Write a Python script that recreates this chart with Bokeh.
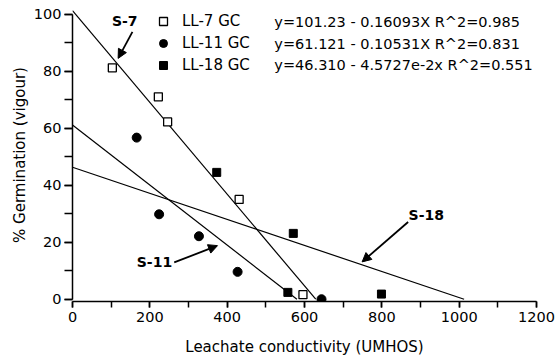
from bokeh.plotting import figure
from bokeh.models import Range1d, FixedTicker, Legend, LegendItem, Arrow, NormalHead, Label
from bokeh.embed import file_html
from bokeh.resources import INLINE
from bokeh.core.properties import value

# Seed lot germination (vigour) against leachate conductivity
ll7_cond = [103, 222, 246, 431, 596]
ll7_germ = [81.2, 71.0, 62.2, 35.0, 1.6]

ll11_cond = [166, 224, 327, 427, 644]
ll11_germ = [56.7, 29.8, 22.1, 9.6, 0.0]

ll18_cond = [373, 557, 571, 799]
ll18_germ = [44.5, 2.4, 23.1, 1.8]

series_names = ["LL-7 GC", "LL-11 GC", "LL-18 GC"]
line_names = ["S-7", "S-11", "S-18"]

# Linear fits: germination = intercept - slope * conductivity
intercepts = [101.23, 61.121, 46.310]
slopes = [0.16093, 0.10531, 4.5727e-2]
equations = [
    "y=101.23 - 0.16093X R^2=0.985",
    "y=61.121 - 0.10531X R^2=0.831",
    "y=46.310 - 4.5727e-2x R^2=0.551",
]

x_ticks = [0, 200, 400, 600, 800, 1000, 1200]
x_minor = [0, 100, 200, 300, 400, 500, 600, 700, 800, 900, 1000, 1100, 1200]
y_ticks = [0, 20, 40, 60, 80, 100]
y_minor = [0, 10, 20, 30, 40, 50, 60, 70, 80, 90, 100]

FONT = "DejaVu Sans"

p = figure(
    width=556, height=361,
    x_range=Range1d(0, 1200), y_range=Range1d(-0.8, 102),
    output_backend="svg", toolbar_location=None,
    min_border_left=72, min_border_right=20,
    min_border_top=8, min_border_bottom=60,
)
p.outline_line_color = None
p.grid.visible = False
p.background_fill_color = "white"

# axes
p.xaxis.bounds = (0, 1200)
p.yaxis.bounds = (0, 100)
p.xaxis.ticker = FixedTicker(ticks=x_ticks, minor_ticks=x_minor)
p.yaxis.ticker = FixedTicker(ticks=y_ticks, minor_ticks=y_minor)
p.xaxis.axis_label = "Leachate conductivity (UMHOS)"
p.yaxis.axis_label = "% Germination (vigour)"
for ax, tick_len, standoff, title_standoff in ((p.xaxis, 6, 4, 13), (p.yaxis, 8, 3, 2)):
    ax.axis_line_color = "black"
    ax.axis_line_width = 1.5
    ax.major_tick_line_color = "black"
    ax.minor_tick_line_color = "black"
    ax.major_tick_line_width = 1.5
    ax.minor_tick_line_width = 1.5
    ax.major_tick_in = 0
    ax.minor_tick_in = 0
    ax.major_tick_out = tick_len
    ax.minor_tick_out = tick_len
    ax.major_label_standoff = standoff
    ax.major_label_text_font = FONT
    ax.major_label_text_font_size = "14.5px"
    ax.major_label_text_color = "black"
    ax.axis_label_standoff = title_standoff
    ax.axis_label_text_font = FONT
    ax.axis_label_text_font_size = "15px"
    ax.axis_label_text_font_style = "normal"
    ax.axis_label_text_color = "black"

# regression lines, from conductivity 0 to where germination reaches 0
for b0, b1 in zip(intercepts, slopes):
    x_end = b0 / b1
    p.line([0, x_end], [b0, b0 - b1 * x_end], line_color="black", line_width=1.2)

r7 = p.scatter(ll7_cond, ll7_germ, marker="square", size=8,
               fill_color="white", line_color="black", line_width=1.3)
r11 = p.scatter(ll11_cond, ll11_germ, marker="circle", size=9,
                fill_color="black", line_color="black")
r18 = p.scatter(ll18_cond, ll18_germ, marker="square", size=8,
                fill_color="black", line_color="black")

legend = Legend(
    items=[LegendItem(label=n, renderers=[r]) for n, r in zip(series_names, [r7, r11, r18])],
    location=(81, 226),
    border_line_color=None, background_fill_alpha=0,
    padding=0, margin=0, spacing=2,
    glyph_height=20, glyph_width=20, label_height=20, label_standoff=9,
    label_text_font=FONT, label_text_font_size="15px", label_text_color="black",
)
p.add_layout(legend)

# fitted equations beside the legend
p.text(x=[522, 522, 522], y=[97.3, 89.7, 82.3], text=equations,
       text_font=value(FONT), text_font_size="14.5px", text_color="black",
       text_align="left", text_baseline="middle")

# arrows naming each fitted line
label_xy = [(135, 97.6), (212, 12.9), (915, 29.7)]
arrow_from = [(155, 93.8), (263, 12.9), (868, 27.1)]
arrow_to = [(118, 84.5), (375, 18.8), (749, 13.1)]
for name, (lx, ly), (x0, y0), (x1, y1) in zip(line_names, label_xy, arrow_from, arrow_to):
    p.add_layout(Arrow(
        end=NormalHead(size=9, fill_color="black", line_color="black", line_width=1),
        x_start=x0, y_start=y0, x_end=x1, y_end=y1,
        line_color="black", line_width=1.8,
    ))
    p.add_layout(Label(
        x=lx, y=ly, text=name, text_font=FONT, text_font_size="14px",
        text_font_style="bold", text_align="center", text_baseline="middle",
        text_color="black",
    ))

open("out.html", "w").write(file_html(p, INLINE))
